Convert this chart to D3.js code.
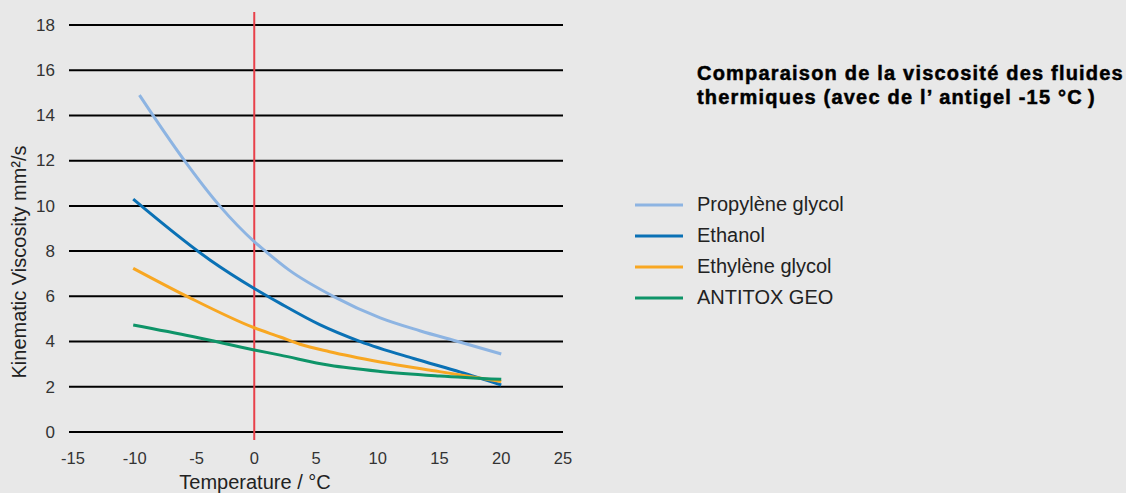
<!DOCTYPE html>
<html>
<head>
<meta charset="utf-8">
<script src="https://cdn.jsdelivr.net/npm/d3@7"></script>
<style>
  body { margin: 0; background: #e8e8e8; }
  svg { display: block; font-family: "Liberation Sans", Arial, sans-serif; }
</style>
</head>
<body>
<svg id="chart" width="1126" height="493"></svg>
<script>
// [temperature °C, viscosity mm²/s]
const propylene = [[-9.3, 14.9], [-8.2, 14.0], [-5.65, 12.0], [-2.8, 10.0], [0, 8.42], [0.9, 8.0],
                   [2.8, 7.17], [6.4, 6.0], [10.2, 5.05], [13.4, 4.48], [16.7, 3.97], [20, 3.45]];
const ethanol   = [[-9.8, 10.3], [-3.56, 7.6], [0, 6.35], [2.1, 5.69], [5.3, 4.75], [8.6, 4.0],
                   [12.9, 3.25], [16.7, 2.65], [20, 2.08]];
const ethylene  = [[-9.8, 7.24], [-5.45, 6.0], [0, 4.61], [2.1, 4.2], [3.7, 3.88], [6.1, 3.55],
                   [10.2, 3.1], [15, 2.67], [20, 2.23]];
const antitox   = [[-9.8, 4.73], [-5, 4.22], [0, 3.63], [2.1, 3.4], [6.1, 2.95], [10.2, 2.68],
                   [15, 2.48], [20, 2.33]];

const seriesNames = ["Propylène glycol", "Ethanol", "Ethylène glycol", "ANTITOX GEO"];
const seriesColors = ["#8db4e2", "#0a71b5", "#f8a722", "#0e9468"];
const xTicks = [-15, -10, -5, 0, 5, 10, 15, 20, 25];
const yTicks = [0, 2, 4, 6, 8, 10, 12, 14, 16, 18];
const titleLines = ["Comparaison de la viscosité des fluides", "thermiques (avec de l’ antigel -15 °C\u2009)"];

const series = [propylene, ethanol, ethylene, antitox].map((pts, i) => ({
  name: seriesNames[i],
  color: seriesColors[i],
  points: pts.map(p => ({ t: p[0], v: p[1] }))
}));

const svg = d3.select('#chart');

const x = d3.scaleLinear().domain([-15, 25]).range([69, 563]);
const y = d3.scaleLinear().domain([0, 18]).range([432, 25]);

// horizontal grid lines
svg.append('g')
  .selectAll('line')
  .data(yTicks)
  .join('line')
  .attr('x1', x(-15))
  .attr('x2', x(25))
  .attr('y1', d => y(d))
  .attr('y2', d => y(d))
  .attr('stroke', '#000')
  .attr('stroke-width', 2);

// y tick labels
svg.append('g')
  .selectAll('text')
  .data(yTicks)
  .join('text')
  .attr('x', 55)
  .attr('y', d => y(d))
  .attr('dy', '0.34em')
  .attr('text-anchor', 'end')
  .attr('font-size', 17)
  .attr('fill', '#333')
  .text(d => d);

// x tick labels
svg.append('g')
  .selectAll('text')
  .data(xTicks)
  .join('text')
  .attr('x', d => x(d) + (d < 0 ? 4 : 0))
  .attr('y', 464)
  .attr('text-anchor', 'middle')
  .attr('font-size', 16.5)
  .attr('fill', '#333')
  .text(d => d);

// axis titles
svg.append('text')
  .attr('x', 255)
  .attr('y', 489)
  .attr('text-anchor', 'middle')
  .attr('font-size', 20)
  .attr('fill', '#222')
  .text('Temperature / °C');

svg.append('text')
  .attr('transform', 'translate(26,262) rotate(-90)')
  .attr('text-anchor', 'middle')
  .attr('font-size', 20)
  .attr('fill', '#222')
  .text('Kinematic Viscosity mm²/s');

// red line at 0 °C
svg.append('line')
  .attr('x1', x(0))
  .attr('x2', x(0))
  .attr('y1', 12)
  .attr('y2', 440)
  .attr('stroke', '#e8404a')
  .attr('stroke-width', 2);

// curves
const line = d3.line()
  .x(d => x(d.t))
  .y(d => y(d.v))
  .curve(d3.curveMonotoneX);

svg.append('g')
  .selectAll('path')
  .data(series)
  .join('path')
  .attr('fill', 'none')
  .attr('stroke', d => d.color)
  .attr('stroke-width', 3)
  .attr('d', d => line(d.points));

// title
svg.append('text')
  .attr('font-size', 20)
  .attr('font-weight', 'bold')
  .attr('letter-spacing', 1.2)
  .attr('fill', '#000')
  .attr('stroke', '#000')
  .attr('stroke-width', 0.5)
  .selectAll('tspan')
  .data(titleLines)
  .join('tspan')
  .attr('x', 697)
  .attr('y', (d, i) => 80 + i * 24)
  .text(d => d);

// legend
const legend = svg.append('g')
  .selectAll('g')
  .data(series)
  .join('g')
  .attr('transform', (d, i) => `translate(635,${205 + i * 31})`);

legend.append('line')
  .attr('x1', 0)
  .attr('x2', 48)
  .attr('stroke', d => d.color)
  .attr('stroke-width', 3);

legend.append('text')
  .attr('x', 62)
  .attr('y', 6)
  .attr('font-size', 20)
  .attr('fill', '#222')
  .text(d => d.name);
</script>
</body>
</html>
